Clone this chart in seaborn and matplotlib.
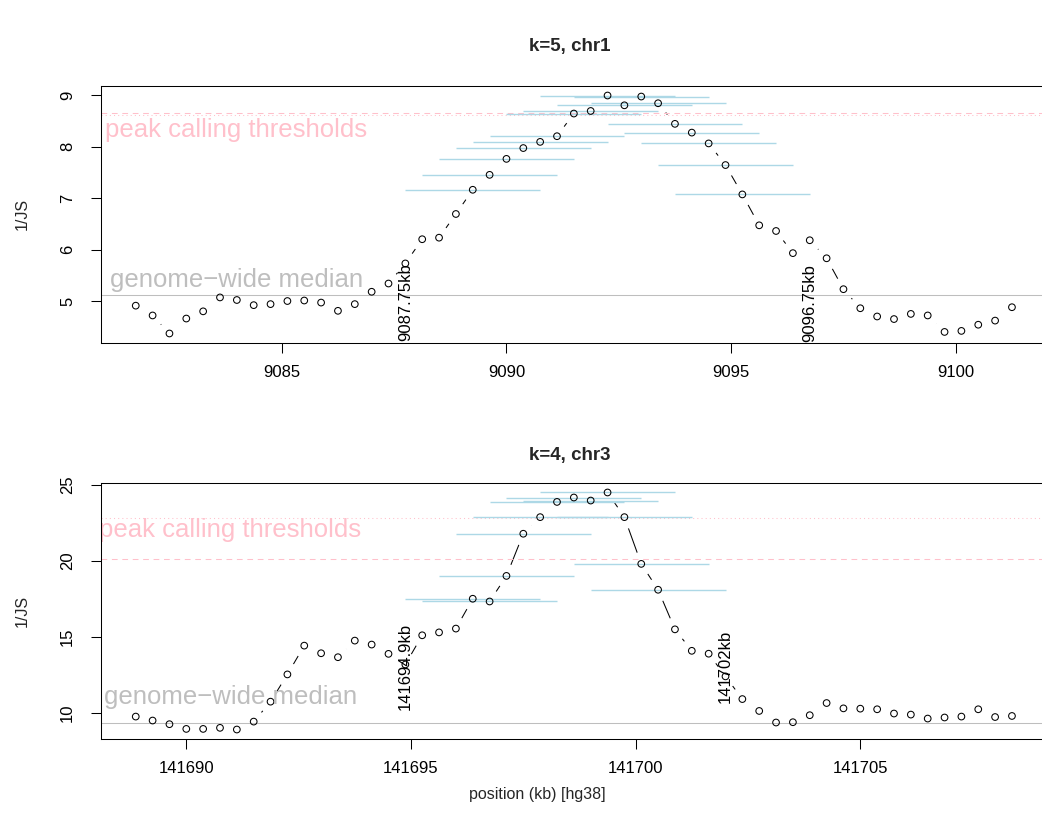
import numpy as np
import pandas as pd
import matplotlib
matplotlib.use("Agg")
import matplotlib.pyplot as plt
import seaborn as sns

# ---------------- data ----------------
# k=5, chr1: 1/JS per bin, bins start at 9081.75 kb with 0.375 kb spacing
chr1_start_kb = 9081.75
chr1_step_kb = 0.375
chr1_inv_js = [4.91, 4.72, 4.37, 4.66, 4.80, 5.07, 5.02, 4.92, 4.94, 5.00,
               5.01, 4.97, 4.81, 4.94, 5.18, 5.34, 5.73, 6.20, 6.23, 6.69,
               7.16, 7.45, 7.76, 7.97, 8.09, 8.20, 8.64, 8.69, 8.99, 8.80,
               8.97, 8.84, 8.44, 8.27, 8.06, 7.64, 7.07, 6.47, 6.36, 5.93,
               6.18, 5.83, 5.23, 4.86, 4.70, 4.65, 4.75, 4.72, 4.40, 4.42,
               4.54, 4.62, 4.88]
chr1_median = 5.125
chr1_threshold_dashed = 8.66
chr1_threshold_dotted = 8.61
chr1_window_bins = (20, 36)          # first and last bin carrying a window bar
chr1_peak_bounds_kb = [9087.75, 9096.75]

# k=4, chr3
chr3_start_kb = 141688.875
chr3_step_kb = 0.375
chr3_inv_js = [9.76, 9.50, 9.26, 8.95, 8.95, 9.02, 8.91, 9.43, 10.74, 12.53,
               14.42, 13.92, 13.66, 14.75, 14.49, 13.88, 13.18, 15.10, 15.29, 15.54,
               17.50, 17.32, 19.00, 21.77, 22.86, 23.86, 24.15, 23.95, 24.48, 22.86,
               19.79, 18.09, 15.49, 14.08, 13.89, 12.40, 10.91, 10.13, 9.37, 9.39,
               9.85, 10.65, 10.30, 10.28, 10.24, 9.96, 9.89, 9.63, 9.70, 9.76,
               10.24, 9.73, 9.80]
chr3_median = 9.32
chr3_threshold_dashed = 20.09
chr3_threshold_dotted = 22.82
chr3_window_bins = (20, 31)
chr3_peak_bounds_kb = [141694.875, 141702.0]

window_half_kb = 1.5

# ---------------- style ----------------
sns.set_style("ticks")
plt.rcParams["font.family"] = ["Liberation Sans", "DejaVu Sans"]

W, H = 1042, 836
DPI = 100
fig = plt.figure(figsize=(W / DPI, H / DPI), dpi=DPI)


def px_axes(left, top, right, bottom):
    return fig.add_axes([left / W, 1 - bottom / H, (right - left) / W, (bottom - top) / H])


def r_range(lo, hi):
    r = hi - lo
    return lo - 0.04 * r, hi + 0.04 * r


def draw_panel(ax, start, step, vals, median, thr_dash, thr_dot, win, bounds,
               bound_label_y, peak_dx, peak_dy, med_dx, med_dy):
    vals = np.asarray(vals)
    pos = start + step * np.arange(len(vals))
    df = pd.DataFrame({"pos": pos, "val": vals})

    ax.set_xlim(*r_range(pos.min(), pos.max()))
    ax.set_ylim(*r_range(vals.min(), vals.max()))

    # joining line, interrupted around each point
    sns.lineplot(data=df, x="pos", y="val", ax=ax, color="black", lw=0.75,
                 sort=False, estimator=None, zorder=1)
    sns.scatterplot(data=df, x="pos", y="val", ax=ax, s=300, color="white",
                    edgecolor="none", linewidth=0, zorder=1.5)

    # reference levels
    ax.axhline(median, color="#BEBEBE", lw=0.75, zorder=2)
    ax.axhline(thr_dash, color="#FFC0CB", lw=0.75, ls=(0, (5.5, 4.5)), zorder=2)
    ax.axhline(thr_dot, color="#FFC0CB", lw=0.75, ls=(0, (1, 3)), zorder=2)

    # window bars around high-scoring bins
    sel = df.iloc[win[0]:win[1] + 1]
    ax.hlines(sel["val"], sel["pos"] - window_half_kb, sel["pos"] + window_half_kb,
              color="#ADD8E6", lw=1.0, zorder=2.2)

    # open circles
    sns.scatterplot(data=df, x="pos", y="val", ax=ax, s=23, marker="o",
                    facecolor="none", edgecolor="black", linewidth=0.75, zorder=3)

    # peak boundaries
    for b in bounds:
        ax.text(b, bound_label_y, f"{b:.7g}kb", rotation=90, ha="center", va="center",
                fontsize=12, color="black", clip_on=True, zorder=4)

    ax.annotate("peak calling thresholds", xy=(0, max(thr_dash, thr_dot)),
                xycoords=("axes fraction", "data"), xytext=(peak_dx, peak_dy),
                textcoords="offset pixels", ha="left", va="top", fontsize=18.5,
                color="#FFC0CB", annotation_clip=False, clip_on=True, zorder=4)
    ax.annotate("genome\u2212wide median", xy=(0, median),
                xycoords=("axes fraction", "data"), xytext=(med_dx, med_dy),
                textcoords="offset pixels", ha="left", va="baseline", fontsize=18.5,
                color="#BEBEBE", annotation_clip=False, clip_on=True, zorder=4)

    ax.set_xlabel("")
    ax.set_ylabel("")
    for sp in ax.spines.values():
        sp.set_visible(True)
        sp.set_color("black")
        sp.set_linewidth(0.75)
        sp.set_zorder(5)
    ax.tick_params(axis="both", direction="out", length=7.5, width=0.75,
                   color="black", labelsize=12, labelcolor="black")
    ax.tick_params(axis="x", pad=8)
    ax.tick_params(axis="y", pad=11)
    for lab in ax.get_yticklabels():
        lab.set_rotation(90)
        lab.set_va("center")
    ax.grid(False)


ax1 = px_axes(100.7, 86, 1047, 343)
ax1.set_xticks([9085, 9090, 9095, 9100])
ax1.set_yticks([5, 6, 7, 8, 9])
draw_panel(ax1, chr1_start_kb, chr1_step_kb, chr1_inv_js, chr1_median,
           chr1_threshold_dashed, chr1_threshold_dotted, chr1_window_bins,
           chr1_peak_bounds_kb, 4.97, 4, -5, 9, 8)

ax2 = px_axes(100.7, 483, 1047, 739)
ax2.set_xticks([141690, 141695, 141700, 141705])
ax2.set_yticks([10, 15, 20, 25])
ax2.xaxis.set_major_formatter(matplotlib.ticker.FormatStrFormatter("%d"))
draw_panel(ax2, chr3_start_kb, chr3_step_kb, chr3_inv_js, chr3_median,
           chr3_threshold_dashed, chr3_threshold_dotted, chr3_window_bins,
           chr3_peak_bounds_kb, 13.05, -2, 0, 3, 19)

# titles and axis labels
fig.text(570 / W, 1 - 47 / H, "k=5, chr1", ha="center", va="center",
         fontsize=13.5, fontweight="bold")
fig.text(570 / W, 1 - 456 / H, "k=4, chr3", ha="center", va="center",
         fontsize=13.5, fontweight="bold")
fig.text(22 / W, 1 - 214 / H, "1/JS", rotation=90, ha="center", va="center", fontsize=11.5)
fig.text(22 / W, 1 - 611 / H, "1/JS", rotation=90, ha="center", va="center", fontsize=11.5)
fig.text(537 / W, 1 - 795 / H, "position (kb) [hg38]", ha="center", va="center", fontsize=11.5)

fig.savefig("out.png", dpi=DPI, facecolor="white")
